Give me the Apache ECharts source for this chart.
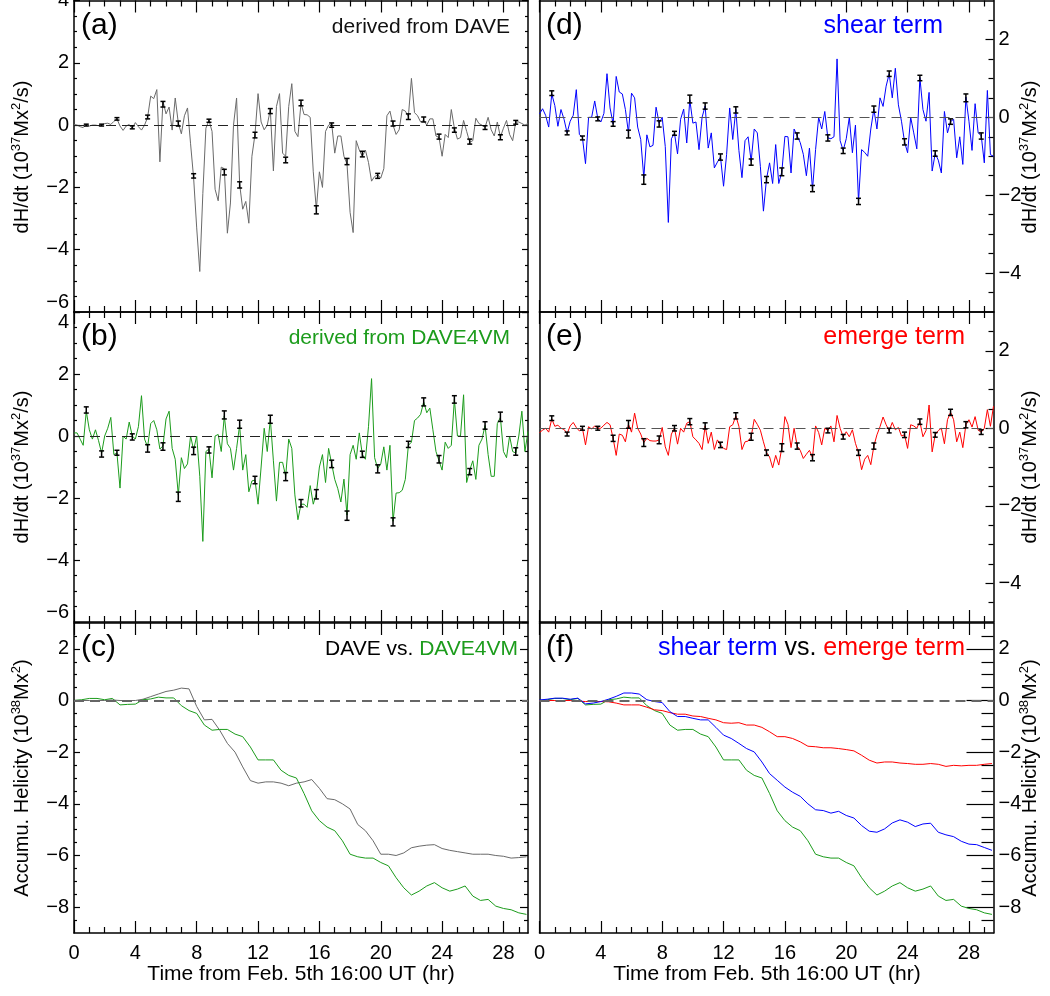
<!DOCTYPE html>
<html>
<head>
<meta charset="utf-8">
<script src="https://cdn.jsdelivr.net/npm/echarts@6/dist/echarts.min.js"></script>
<style>
  html, body { margin: 0; padding: 0; background: #fff; }
  #main { width: 1050px; height: 996px; }
</style>
</head>
<body>
<div id="main"></div>
<script>
// helicity injection rate (dH/dt) and accumulated helicity, six panels

// --- data -------------------------------------------------------------
var cadence = 0.2;          // hr between samples of dH/dt
var accumStep = 0.5;        // hr between read-off points of accumulated curves

// (a) dH/dt derived from DAVE, 10^37 Mx^2/s
var dhdtDave = [
  0.02, 0.0, -0.05, -0.08, 0.02, -0.03, 0.0, 0.0, -0.02, 0.0,
  0.05, 0.06, 0.02, 0.12, 0.2, -0.03, -0.17, -0.03, 0.02, -0.1,
  0.08, -0.05, -0.16, 0.0, 0.25, 0.93, 0.85, 1.14, -1.18, 0.77,
  0.36, 0.58, -0.16, 0.87, 0.07, -0.28, 0.3, 0.55, -0.6, -1.7,
  -3.3, -4.7, -2.2, -0.1, 0.15, -0.2, -2.06, -2.43, -1.35, -1.4,
  -3.47, -2.5, 0.0, 0.87, -1.9, -2.7, -2.45, -3.15, -1.0, -0.3,
  1.01, 0.1, -0.15, 0.0, 0.5, -1.47, 0.6, 1.01, -0.9, -1.0,
  0.6, 1.33, -0.2, -0.37, 0.7, 0.34, 0.33, 0.25, -1.5, -2.7,
  -1.5, -2.0, -0.2, 0.0, 0.05, -0.9, -0.35, -0.35, -1.0, -1.25,
  -2.8, -3.45, -0.5, -0.8, -1.0, -0.8, -1.2, -1.8, -1.65, -1.6,
  -1.7, -1.4, 0.3, 0.45, 0.0, -0.3, -0.15, 0.5, 0.45, 0.28,
  1.5, 0.4, 0.3, 0.1, 0.15, 0.0, 0.2, 0.2, -0.35, -0.4,
  -1.0, -0.3, -0.4, 0.5, -0.1, -0.45, -0.4, 0.15, -0.2, -0.55,
  -0.5, 0.22, 0.05, 0.0, -0.07, 0.25, -0.15, -0.35, 0.1, -0.38,
  -0.1, 0.15, -0.3, -0.5, 0.1, 0.1, 0.05, 0.0, 0.05
];
// (b) dH/dt derived from DAVE4VM
var dhdtDave4vm = [
  0.1, 0.1, -0.1, -0.3, 0.8, 0.2, -0.1, 0.2, -0.15, -0.55,
  0.0, 0.25, 0.6, -0.6, -0.55, -1.68, 0.0, -0.1, 0.45, 0.0,
  -0.1, 0.3, 1.3, -0.1, -0.35, 0.4, 0.5, 0.2, -0.42, -0.32,
  0.55, 0.8, -0.4, -0.75, -1.9, -0.7, -1.05, -0.9, 0.0, -0.45,
  0.0, -1.3, -3.4, -0.5, -0.42, -1.35, 0.0, 0.05, -0.5, 0.65,
  -0.25, -0.4, -1.1, -0.4, 0.35, -1.1, -0.6, -1.8, -1.45, -1.42,
  -2.2, -1.0, 0.25, -0.5, 0.55, -0.8, -2.1, -0.85, -0.85, -1.3,
  -0.1, -0.4, -1.9, -2.7, -2.2, -2.2, -2.3, -1.6, -2.2, -1.85,
  -1.0, -0.6, -1.5, -0.4, -0.9, -1.4, -1.7, -2.13, -1.39, -2.55,
  -0.6, -0.3, -0.75, 0.1, -0.6, -0.75, 0.3, 1.85, -0.7, -1.05,
  -0.9, -0.35, -1.1, -0.3, -2.75, -1.84, -1.83, -1.75, -1.4, -0.3,
  -0.2, 0.5, 0.58, 0.7, 1.1, 0.75, 0.9, 0.2, -0.5, -0.8,
  -1.1, -0.2, -0.4, -0.3, 1.18, 0.0, 0.0, 1.33, -1.5, -1.1,
  -0.8, -1.4, -0.3, -0.1, 0.34, -0.6, -1.3, -1.3, 0.4, 0.6,
  -0.5, -0.7, 0.0, -0.5, -0.55, 0.0, 0.8, -0.5, 0.15
];
// (d) shear term
var dhdtShear = [
  0.09, 0.22, 0.05, -0.25, 0.6, 0.3, -0.23, 0.2, -0.05, -0.4,
  -0.1, 0.05, 0.71, -0.44, -0.52, -1.19, 0.0, 0.0, 0.42, -0.03,
  -0.12, 0.1, 1.12, 0.24, -0.17, 1.05, 0.65, 0.6, 0.2, -0.4,
  0.62, 0.5, -0.25, -0.57, -1.55, -0.45, -0.76, -0.72, 0.26, -0.15,
  0.0, -0.75, -2.7, -0.55, -0.41, -0.94, -0.05, 0.21, -0.66, 0.45,
  -0.15, -0.12, -0.83, 0.0, 0.29, -0.79, -0.4, -1.3, -1.15, -1.02,
  -1.77, -0.95, 0.24, -0.57, 0.2, -0.85, -1.55, -0.6, -0.5, -1.13,
  -0.3, -0.4, -1.26, -2.41, -1.58, -1.17, -1.7, -0.7, -1.7, -1.4,
  -0.49, -0.5, -1.43, -0.3, -0.48, -0.65, -0.95, -1.5, -0.79, -1.85,
  -0.83, 0.0, -0.3, 0.15, -0.53, -0.55, -0.5, 1.5, -0.6, -0.85,
  -0.55, 0.0, -0.91, -0.2, -2.16, -0.83, -0.9, -1.0, -0.3, 0.21,
  -0.3, 0.5, 0.28, 0.8, 1.12, 0.5, 1.26, 0.32, -0.1, -0.63,
  -0.91, 0.0, -0.4, -0.81, 1.02, 0.2, -0.1, 0.64, -1.38, -0.93,
  -1.1, -1.43, 0.15, -0.4, -0.11, -0.05, -1.04, -0.5, -1.21, 0.52,
  -0.1, -0.85, 0.35, -0.4, -0.47, -1.17, 0.69, -0.96, -1.0
];
// (e) emerge term
var dhdtEmerge = [
  -0.11, -0.05, 0.0, -0.1, 0.24, 0.05, 0.08, 0.0, -0.03, -0.14,
  0.06, 0.15, 0.02, -0.07, 0.0, -0.43, 0.04, -0.02, 0.06, 0.0,
  0.0, 0.08, 0.15, 0.09, -0.26, -0.7, -0.15, -0.18, -0.35, 0.1,
  -0.1, 0.39, 0.0, -0.15, -0.37, -0.26, -0.32, -0.33, -0.33, -0.3,
  0.02, -0.48, -0.7, -0.15, 0.0, -0.41, 0.0, -0.1, 0.13, 0.17,
  -0.22, -0.3, -0.39, -0.55, 0.06, -0.39, -0.1, -0.55, -0.3, -0.43,
  -0.52, -0.55, 0.04, 0.09, 0.32, 0.05, -0.55, -0.35, -0.33, -0.22,
  0.23, 0.1, -0.05, -0.35, -0.63, -0.74, -1.02, -0.7, -0.95, -0.5,
  0.3, 0.1, -0.5, 0.0, -0.46, -0.57, -0.78, -0.67, -0.57, -0.76,
  0.06, -0.11, -0.43, 0.0, -0.06, 0.06, -0.35, 0.33, 0.0, -0.22,
  -0.09, -0.22, -0.04, -0.39, -0.63, -1.07, -0.8, -0.7, -0.94, -0.46,
  -0.17, 0.04, 0.29, 0.09, -0.06, 0.15, -0.04, 0.02, -0.2, -0.17,
  -0.52, 0.09, 0.06, 0.0, 0.17, -0.22, -0.06, 0.6, -0.61, -0.17,
  -0.06, 0.0, -0.4, 0.22, 0.41, 0.22, -0.35, -0.1, -0.5, 0.09,
  0.22, 0.03, 0.3, -0.05, -0.1, 0.0, 0.48, 0.05, 0.57
];

// hourly points with error bars (first at 0.8 hr)
var errStart = 0.8;
var errDave = [0.0, 0.0, 0.2, -0.07, 0.26, 0.67, 0.05, -1.63, 0.14, -1.51, -1.92, -0.32, 0.45, -1.12, 0.71,
  -2.72, 0.0, -1.17, -0.93, -1.63, 0.05, 0.27, 0.18, -0.37, -0.16, -0.53, -0.08, -0.39, 0.09];
var sigDave = [0.03, 0.03, 0.04, 0.05, 0.06, 0.09, 0.08, 0.07, 0.05, 0.09, 0.1, 0.09, 0.08, 0.09, 0.09,
  0.13, 0.07, 0.1, 0.09, 0.08, 0.08, 0.09, 0.08, 0.08, 0.07, 0.08, 0.06, 0.08, 0.06];
var errDave4vm = [0.84, -0.58, -0.54, -0.03, -0.4, -0.34, -1.96, -0.48, -0.45, 0.68, 0.38, -1.42, 0.54, -1.31, -2.17,
  -1.88, -0.9, -2.57, -0.59, -1.06, -2.77, -0.27, 1.1, -0.75, 1.18, -1.15, 0.34, 0.62, -0.5];
var sigDave4vm = [0.1, 0.1, 0.08, 0.1, 0.12, 0.12, 0.15, 0.12, 0.1, 0.13, 0.13, 0.12, 0.13, 0.13, 0.12,
  0.15, 0.12, 0.15, 0.1, 0.13, 0.13, 0.1, 0.13, 0.12, 0.12, 0.1, 0.12, 0.15, 0.12];
var errShear = [0.62, -0.4, -0.53, -0.04, -0.17, -0.43, -1.6, -0.17, -0.41, 0.47, 0.29, -1.02, 0.19, -1.15, -1.6,
  -1.4, -0.48, -1.83, -0.53, -0.86, -2.16, 0.21, 1.12, -0.63, 1.01, -0.93, -0.11, 0.5, -0.48];
var sigShear = [0.06, 0.05, 0.05, 0.05, 0.06, 0.1, 0.12, 0.08, 0.05, 0.1, 0.08, 0.08, 0.08, 0.08, 0.08,
  0.1, 0.08, 0.08, 0.08, 0.07, 0.08, 0.08, 0.07, 0.08, 0.07, 0.07, 0.07, 0.1, 0.08];
var errEmerge = [0.26, -0.15, 0.0, 0.0, -0.26, 0.1, -0.37, -0.3, 0.0, 0.17, 0.06, -0.43, 0.32, -0.22, -0.63,
  -0.5, -0.46, -0.76, -0.06, -0.22, -0.63, -0.46, -0.06, -0.17, 0.17, -0.17, 0.41, 0.09, -0.1];
var sigEmerge = [0.06, 0.05, 0.05, 0.05, 0.08, 0.1, 0.1, 0.1, 0.07, 0.08, 0.08, 0.07, 0.08, 0.09, 0.07,
  0.1, 0.08, 0.08, 0.06, 0.06, 0.07, 0.08, 0.06, 0.07, 0.07, 0.06, 0.08, 0.08, 0.06];

// accumulated helicity, 10^38 Mx^2, every 0.5 hr
var accumDave = [0, 0, 0, 0, 0, 0.02, 0, 0, 0, 0.05, 0.15, 0.25, 0.35, 0.4, 0.48, 0.45, -0.23, -0.75, -0.73, -1.15,
  -1.66, -2.0, -2.57, -3.1, -3.2, -3.15, -3.15, -3.2, -3.3, -3.2, -3.15, -3.06, -3.4, -3.8, -3.84, -4.0, -4.2, -4.8,
  -5.04, -5.43, -5.95, -5.95, -6.0, -5.9, -5.7, -5.64, -5.6, -5.58, -5.73, -5.8, -5.85, -5.9, -5.95, -5.95, -5.95,
  -6.0, -6.03, -6.1, -6.08, -6.05];
var accumDave4vm = [0, 0.03, 0.08, 0.08, 0.03, 0.08, -0.17, -0.15, -0.14, 0.03, 0.06, 0.13, 0.1, 0.1, -0.2, -0.39,
  -0.5, -0.95, -1.15, -1.12, -1.12, -1.3, -1.4, -1.8, -2.3, -2.3, -2.3, -2.7, -2.9, -3.0, -3.6, -4.27, -4.65, -4.9,
  -5.04, -5.43, -5.95, -6.05, -6.1, -6.1, -6.27, -6.4, -6.86, -7.25, -7.53, -7.38, -7.18, -7.05, -7.25, -7.38, -7.3,
  -7.18, -7.57, -7.74, -7.7, -7.96, -8.05, -8.1, -8.22, -8.28];
var accumShear = [0.02, 0.05, 0.09, 0.09, 0.05, 0.09, -0.13, -0.1, -0.04, 0.05, 0.16, 0.29, 0.29, 0.25, 0.03, -0.04,
  -0.08, -0.43, -0.62, -0.62, -0.69, -0.75, -0.75, -1.04, -1.34, -1.47, -1.66, -1.86, -1.99, -2.38, -2.83, -3.09,
  -3.35, -3.55, -3.71, -4.0, -4.23, -4.26, -4.36, -4.29, -4.45, -4.55, -4.84, -5.06, -5.1, -4.97, -4.74, -4.62,
  -4.71, -4.88, -4.78, -4.75, -5.1, -5.2, -5.27, -5.45, -5.56, -5.58, -5.69, -5.8];
var accumEmerge = [0, 0, 0, 0, 0, -0.02, -0.04, -0.04, -0.04, -0.05, -0.1, -0.17, -0.17, -0.17, -0.26, -0.36, -0.39,
  -0.47, -0.53, -0.53, -0.6, -0.62, -0.69, -0.75, -0.86, -0.88, -0.86, -0.95, -0.95, -1.04, -1.21, -1.4, -1.4, -1.47,
  -1.6, -1.77, -1.79, -1.83, -1.83, -1.86, -1.9, -1.95, -2.12, -2.31, -2.42, -2.38, -2.38, -2.42, -2.44, -2.47,
  -2.47, -2.44, -2.47, -2.55, -2.51, -2.53, -2.51, -2.51, -2.47, -2.44];

var xTicksMajor = [0, 4, 8, 12, 16, 20, 24, 28];
var xTicksMinor = [1, 2, 3, 5, 6, 7, 9, 10, 11, 13, 14, 15, 17, 18, 19, 21, 22, 23, 25, 26, 27, 29];

// --- styles -------------------------------------------------------------
var FONT = '"Liberation Sans", Arial, Helvetica, sans-serif';
var X_MAX = 29.6;
var GRAY = '#6a6a6a', GREEN = '#1c9c1c', BLUE = '#0000ff', RED = '#ff0000';

function stamp(vals, step) {
  return vals.map(function (v, i) { return [i * step, v]; });
}
function withErr(vals, sigs) {
  return vals.map(function (v, i) { return [errStart + i, v, sigs[i]]; });
}
function minus(v) { return v < 0 ? '\u2212' + Math.abs(v) : String(v); }

function yMajor(min, max) {
  var out = [];
  for (var v = Math.ceil(min / 2) * 2; v <= max; v += 2) out.push(v);
  return out;
}
function yMinor(min, max) {
  var out = [];
  for (var v = min + 0.5; v < max; v += 0.5) { if (v % 2 !== 0) out.push(v); }
  return out;
}

var panels = [
  {left: 74, top: 0.5, height: 311.5, min: -6, max: 4, col: 0, xLab: false, rLen: [6, 3], vMin: 'bottom'},
  {left: 74, top: 312, height: 310, min: -6, max: 4, col: 0, xLab: false, rLen: [6, 3], vMin: 'bottom', vMax: 'top'},
  {left: 74, top: 623, height: 310, min: -9, max: 3, col: 0, xLab: true, rLen: [8, 4]},
  {left: 539.5, top: 0.5, height: 311.5, min: -5, max: 3, col: 1, xLab: false, rLen: [8, 5]},
  {left: 539.5, top: 312, height: 310, min: -5, max: 3, col: 1, xLab: false, rLen: [8, 5]},
  {left: 539.5, top: 623, height: 310, min: -9, max: 3, col: 1, xLab: true, rLen: [27, 12]}
];

var grids = [], xAxes = [], yAxes = [];

function axis(g, pos, min, max, ticks, len, showLine, label) {
  return {
    gridIndex: g, type: 'value', position: pos, min: min, max: max,
    axisLine: {show: showLine, onZero: false, lineStyle: {color: '#000', width: 1.5}},
    axisTick: {show: len > 0, inside: true, length: len, customValues: ticks,
      lineStyle: {color: '#000', width: 1.2}},
    axisLabel: label || {show: false},
    splitLine: {show: false}
  };
}

panels.forEach(function (p, g) {
  grids.push({left: p.left, top: p.top, width: 454, height: p.height,
    outerBoundsMode: 'none', containLabel: false});
  var xl = p.xLab ? {show: true, customValues: xTicksMajor, fontFamily: FONT, fontSize: 20,
    color: '#000', margin: 10} : null;
  xAxes.push(axis(g, 'bottom', 0, X_MAX, xTicksMajor, 12, true, xl));
  xAxes.push(axis(g, 'top', 0, X_MAX, xTicksMajor, 12, true));
  xAxes.push(axis(g, 'bottom', 0, X_MAX, xTicksMinor, 6, false));
  xAxes.push(axis(g, 'top', 0, X_MAX, xTicksMinor, 6, false));

  var maj = yMajor(p.min, p.max), mnr = yMinor(p.min, p.max);
  var yl = {show: true, customValues: maj, formatter: minus, fontFamily: FONT, fontSize: 20,
    color: '#000', margin: 5};
  if (p.vMin) yl.verticalAlignMinLabel = p.vMin;
  if (p.vMax) yl.verticalAlignMaxLabel = p.vMax;
  if (p.col === 0) {
    yAxes.push(axis(g, 'left', p.min, p.max, maj, 6, true, yl));
    yAxes.push(axis(g, 'left', p.min, p.max, mnr, 3, false));
  } else {
    yAxes.push(axis(g, 'left', p.min, p.max, maj, 0, true));
    yAxes.push(axis(g, 'left', p.min, p.max, mnr, 0, false));
  }
  yAxes.push(axis(g, 'right', p.min, p.max, maj, p.rLen[0], true, p.col === 1 ? yl : null));
  yAxes.push(axis(g, 'right', p.min, p.max, mnr, p.rLen[1], false));
});

function zeroLine(color, width) {
  return {
    silent: true, symbol: ['none', 'none'], label: {show: false},
    lineStyle: {color: color, width: width, type: [10, 6]},
    data: [{yAxis: 0}]
  };
}

function lineSeries(g, data, color, mark) {
  var s = {
    type: 'line', xAxisIndex: 4 * g, yAxisIndex: 4 * g, data: data,
    symbol: 'none', lineStyle: {color: color, width: 1}, z: 3
  };
  if (mark) s.markLine = mark;
  return s;
}

function renderErr(params, api) {
  var t = api.value(0), v = api.value(1), s = api.value(2);
  var hi = api.coord([t, v + s]);
  var lo = api.coord([t, v - s]);
  var cap = 2.5;
  var st = {stroke: '#000', lineWidth: 1.5};
  return {
    type: 'group', children: [
      {type: 'line', shape: {x1: hi[0], y1: hi[1], x2: lo[0], y2: lo[1]}, style: st},
      {type: 'line', shape: {x1: hi[0] - cap, y1: hi[1], x2: hi[0] + cap, y2: hi[1]}, style: st},
      {type: 'line', shape: {x1: lo[0] - cap, y1: lo[1], x2: lo[0] + cap, y2: lo[1]}, style: st}
    ]
  };
}
function errSeries(g, data) {
  return {type: 'custom', xAxisIndex: 4 * g, yAxisIndex: 4 * g, data: data,
    renderItem: renderErr, z: 5, silent: true};
}

var series = [
  lineSeries(0, stamp(dhdtDave, cadence), GRAY, zeroLine('#222', 1)),
  errSeries(0, withErr(errDave, sigDave)),
  lineSeries(1, stamp(dhdtDave4vm, cadence), GREEN, zeroLine('#222', 1)),
  errSeries(1, withErr(errDave4vm, sigDave4vm)),
  lineSeries(2, stamp(accumDave, accumStep), GRAY, zeroLine('#666', 2)),
  lineSeries(2, stamp(accumDave4vm, accumStep), GREEN),
  lineSeries(3, stamp(dhdtShear, cadence), BLUE, zeroLine('#555', 1.2)),
  errSeries(3, withErr(errShear, sigShear)),
  lineSeries(4, stamp(dhdtEmerge, cadence), RED, zeroLine('#555', 1.2)),
  errSeries(4, withErr(errEmerge, sigEmerge)),
  lineSeries(5, stamp(accumDave4vm, accumStep), GREEN, zeroLine('#666', 2)),
  lineSeries(5, stamp(accumEmerge, accumStep), RED),
  lineSeries(5, stamp(accumShear, accumStep), BLUE)
];

// --- texts --------------------------------------------------------------
function txt(x, y, text, size, color, align, rich) {
  return {
    type: 'text', x: x, y: y, silent: true, z: 10,
    style: {text: text, fontFamily: FONT, fontSize: size, fill: color,
      align: align, textAlign: align, verticalAlign: 'middle', textVerticalAlign: 'middle', rich: rich}
  };
}
function rotTxt(x, y, text, size) {
  var t = txt(x, y, text, size, '#000', 'center', {
    s: {fontFamily: FONT, fontSize: 13, fill: '#000', verticalAlign: 'top', lineHeight: 24}
  });
  t.rotation = Math.PI / 2;
  t.style.lineHeight = 24;
  return t;
}
function richSet(size, names, colors) {
  var r = {};
  names.forEach(function (n, i) {
    r[n] = {fontFamily: FONT, fontSize: size, fill: colors[i], color: colors[i]};
  });
  return r;
}
var dhdtTitle = 'dH/dt (10{s|37}Mx{s|2}/s)';
var accTitle = 'Accumu. Helicity (10{s|38}Mx{s|2})';
var timeTitle = 'Time from Feb. 5th 16:00 UT (hr)';

var graphics = [
  txt(81, 26, '(a)', 30, '#000', 'left'),
  txt(510, 27, 'derived from DAVE', 21, '#111', 'right'),
  txt(81, 337, '(b)', 30, '#000', 'left'),
  txt(510, 338, 'derived from DAVE4VM', 21, GREEN, 'right'),
  txt(81, 648, '(c)', 30, '#000', 'left'),
  txt(518, 649, '{k|DAVE vs. }{g|DAVE4VM}', 21, '#000', 'right',
    richSet(21, ['k', 'g'], ['#000', GREEN])),
  txt(546, 26, '(d)', 30, '#000', 'left'),
  txt(943, 26, 'shear term', 25, BLUE, 'right'),
  txt(546, 337, '(e)', 30, '#000', 'left'),
  txt(965, 337, 'emerge term', 25, RED, 'right'),
  txt(546, 648, '(f)', 30, '#000', 'left'),
  txt(965, 648, '{a|shear term}{k| vs. }{b|emerge term}', 25, '#000', 'right',
    richSet(25, ['a', 'k', 'b'], [BLUE, '#000', RED])),
  rotTxt(22, 157, dhdtTitle, 20),
  rotTxt(22, 467, dhdtTitle, 20),
  rotTxt(22, 778, accTitle, 20),
  rotTxt(1030, 157, dhdtTitle, 20),
  rotTxt(1030, 467, dhdtTitle, 20),
  rotTxt(1030, 778, accTitle, 20),
  txt(301, 974, timeTitle, 21, '#000', 'center'),
  txt(767, 974, timeTitle, 21, '#000', 'center')
];

var chart = echarts.init(document.getElementById('main'));
chart.setOption({
  animation: false,
  backgroundColor: '#fff',
  grid: grids,
  xAxis: xAxes,
  yAxis: yAxes,
  series: series,
  graphic: graphics
});
</script>
</body>
</html>
